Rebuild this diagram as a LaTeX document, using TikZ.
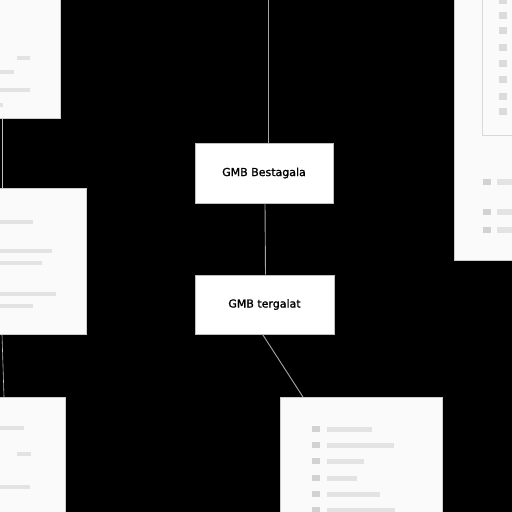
\documentclass[tikz,border=0pt]{standalone}
\usepackage{fontspec}
\setmainfont{DejaVu Sans}
\newfontfamily\semib[FakeBold=1.2]{DejaVu Sans}
\begin{document}
\begin{tikzpicture}[x=1pt,y=-1pt,
  panel/.style={draw=gray!40,line width=0.6pt,fill=white!98!black,inner sep=0pt,anchor=north west},
  box/.style={draw=gray!50,line width=0.6pt,fill=white,inner sep=0pt,font=\semib\fontsize{11}{13}\selectfont},
  conn/.style={draw=gray!70,line width=0.9pt},
  bar/.style={fill=gray!22},
  ico/.style={fill=gray!35},
  icolt/.style={fill=gray!28}]
\fill[black] (0,0) rectangle (512,512);
\useasboundingbox (0,0) rectangle (512,512);
% panels
\node[panel,minimum width=61pt,minimum height=119pt] (tl) at (-1,-1) {};
\node[panel,minimum width=87pt,minimum height=146pt] (ml) at (-1,188) {};
\node[panel,minimum width=66pt,minimum height=116pt] (bl) at (-1,397) {};
\node[panel,minimum width=162pt,minimum height=116pt] (br) at (280,397) {};
\node[panel,minimum width=59pt,minimum height=261pt] (rp) at (454,-1) {};
\node[panel,draw=gray!30,minimum width=31pt,minimum height=136pt] (rf) at (482,-1) {};
% boxes
\node[box,minimum width=138pt,minimum height=60pt] (A) at (264,173) {GMB Bestagala};
\node[box,minimum width=139pt,minimum height=59pt] (B) at (264.5,304.5) {GMB tergalat};
% connectors
\coordinate (top) at (268,0);
\draw[conn] (top) -- (top |- A.north);
\draw[conn] ([xshift=1pt]A.south) -- ([xshift=1pt]B.north);
\draw[conn] ([xshift=-2pt]B.south) -- ([xshift=23pt]br.north west);
\draw[conn,draw=gray!50,line width=0.6pt] ([xshift=3pt]tl.south west) -- ([xshift=3pt]ml.north west);
\draw[conn,draw=gray!50,line width=0.6pt] ([xshift=3pt]ml.south west) -- ([xshift=5pt]bl.north west);
% top-left bars
\fill[bar] (17,56) rectangle (30,60);
\fill[bar] (0,70) rectangle (14,74);
\fill[bar] (0,88) rectangle (30,92);
\fill[bar] (0,103) rectangle (3,107);
% mid-left bars
\fill[bar] (0,220) rectangle (33,224);
\fill[bar] (0,249) rectangle (52,253);
\fill[bar] (0,261) rectangle (42,265);
\fill[bar] (0,292) rectangle (56,296);
\fill[bar] (0,304) rectangle (33,308);
% bottom-left bars
\fill[bar] (0,426) rectangle (24,430);
\fill[bar] (17,452) rectangle (31,456);
\fill[bar] (0,485) rectangle (30,489);
% bottom-right rows
\foreach \yy/\ee in {429/372,445/394,461/364,478/357,494/380,510/395}{
  \fill[ico] (312,\yy-3) rectangle (320,\yy+3);
  \fill[bar] (327,\yy-2.5) rectangle (\ee,\yy+2.5);
}
% right panel inner icons
\foreach \yy in {0,15,30,47,63,79,96,111}{
  \fill[icolt] (499,\yy-3.5) rectangle (507,\yy+3.5);
}
\foreach \yy in {182,212,230}{
  \fill[ico] (483,\yy-3) rectangle (491,\yy+3);
  \fill[bar] (497,\yy-3) rectangle (512,\yy+3);
}
\end{tikzpicture}
\end{document}
